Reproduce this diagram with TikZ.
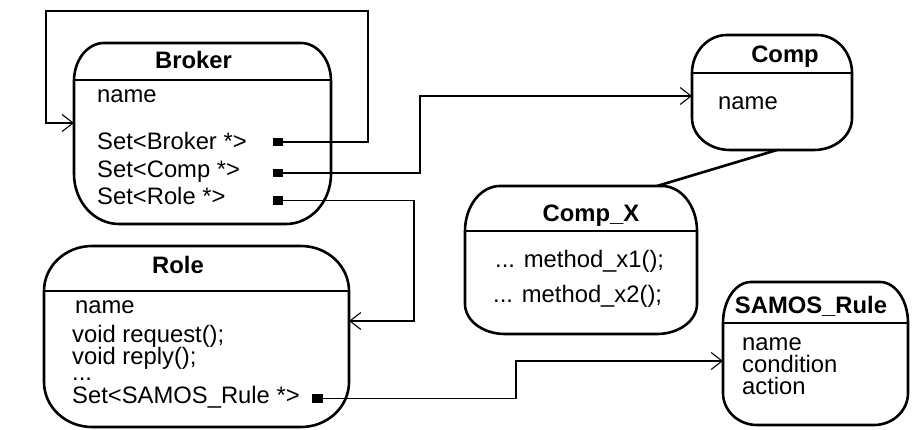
\documentclass[tikz,border=0pt]{standalone}
\usepackage{fontspec}
\setmainfont{Liberation Sans}
\usetikzlibrary{calc,arrows.meta}
\tikzset{
  boxline/.style={line width=2.6pt, line join=round},
  boxarea/.style={rectangle, inner sep=0pt, outer sep=0pt},
  conn/.style={line width=1.1pt},
  arr/.style={-{Straight Barb[length=11pt,width=17pt,line width=1.1pt]}},
  txt/.style={inner sep=0pt, anchor=base west, font=\fontsize{23.8}{26}\selectfont},
  ttl/.style={inner sep=0pt, anchor=base, font=\fontsize{23.8}{26}\selectfont\bfseries},
  sqr/.style={rectangle, fill=black, inner sep=0pt, minimum width=10.5pt, minimum height=8.5pt},
}
\newcommand{\umlshape}[6]{%
\draw[boxline]
 ($(#1.north west)+(#2,0)$) -- ($(#1.north east)+(-#2,0)$)
 .. controls ($(#1.north east)+(-0.448*#2,0)$) and ($(#1.north east)+(0,0.448*#3)$) .. ($(#1.north east)+(0,#3)$)
 -- ($(#1.south east)+(0,-#5)$)
 .. controls ($(#1.south east)+(0,-0.448*#5)$) and ($(#1.south east)+(-0.448*#4,0)$) .. ($(#1.south east)+(-#4,0)$)
 -- ($(#1.south west)+(#4,0)$)
 .. controls ($(#1.south west)+(0.448*#4,0)$) and ($(#1.south west)+(0,-0.448*#5)$) .. ($(#1.south west)+(0,-#5)$)
 -- ($(#1.north west)+(0,#3)$)
 .. controls ($(#1.north west)+(0,0.448*#3)$) and ($(#1.north west)+(0.448*#2,0)$) .. ($(#1.north west)+(#2,0)$)
 -- cycle;
\draw[boxline] ($(#1.north west)+(0,#6)$) -- ($(#1.north east)+(0,#6)$);}
\begin{document}
\begin{tikzpicture}[x=1pt,y=-1pt]
\useasboundingbox (0,0) rectangle (912,430);
% box areas
\node[boxarea, minimum width=257pt, minimum height=181pt] (broker) at (202.5,133.5) {};
\node[boxarea, minimum width=305pt, minimum height=181pt] (role) at (196.5,336.5) {};
\node[boxarea, minimum width=160pt, minimum height=115pt] (comp) at (772,92.5) {};
\node[boxarea, minimum width=232pt, minimum height=148pt] (compx) at (581,260) {};
\node[boxarea, minimum width=185pt, minimum height=143pt] (samos) at (815.5,353.5) {};
\umlshape{broker}{30}{38}{45}{50}{37}
\umlshape{role}{48}{45}{48}{45}{45}
\umlshape{comp}{35}{38}{38}{32}{38}
\umlshape{compx}{35}{45}{40}{30}{45}
\umlshape{samos}{28}{41}{34}{32}{41}
% Broker texts
\node[ttl] (tBroker) at (193.5,69) {Broker};
\node[txt] (bName) at (97,103) {name};
\node[txt] (bSetB) at (97,150) {Set<Broker *>};
\node[txt] (bSetC) at (97,178) {Set<Comp *>};
\node[txt] (bSetR) at (97,205) {Set<Role *>};
% Role texts
\node[ttl] (tRole) at (178,273) {Role};
\node[txt] (rName) at (75,313) {name};
\node[txt] (rReq) at (72,342) {void request();};
\node[txt] (rRep) at (72,364) {void reply();};
\node[txt] (rDots) at (72,380) {...};
\node[txt] (rSet) at (72,403) {Set<SAMOS\_Rule *>};
% Comp texts
\node[ttl] (tComp) at (785,63) {Comp};
\node[txt] (cName) at (718,110) {name};
% Comp_X texts
\node[ttl] (tCompX) at (591,222) {Comp\_X};
\node[txt] (xM1) at (495,267) {... method\_x1();};
\node[txt] (xM2) at (493,302) {... method\_x2();};
% SAMOS texts
\node[ttl] (tSamos) at (811,313) {SAMOS\_Rule};
\node[txt] (sName) at (742,350) {name};
\node[txt] (sCond) at (742,372) {condition};
\node[txt] (sAct) at (742,394) {action};
% squares
\node[sqr] (sqB) at (278,142) {};
\node[sqr] (sqC) at (278,173) {};
\node[sqr] (sqR) at (278,200.5) {};
\node[sqr] (sqS) at (317.5,398.5) {};
% connector end points
\coordinate (bIn) at (74,123);
\coordinate (cIn) at (692,96);
\coordinate (rIn) at (349,321);
\coordinate (sIn) at (723,361);
\coordinate (xTop) at (657,186);
\coordinate (cBot) at (777,150);
% connectors
\draw[conn,arr] (sqB.center) -- (368,142) -- (368,11) -- (46,11) -- (46,123) -- (bIn);
\draw[conn,arr] (sqC.center) -- (420,173) -- (420,96) -- (cIn);
\draw[conn,arr] (sqR.center) -- (414,200.5) -- (414,321) -- (rIn);
\draw[conn,arr] (sqS.center) -- (516,398.5) -- (516,361) -- (sIn);
\draw[boxline] (xTop) -- (cBot);
\end{tikzpicture}
\end{document}
